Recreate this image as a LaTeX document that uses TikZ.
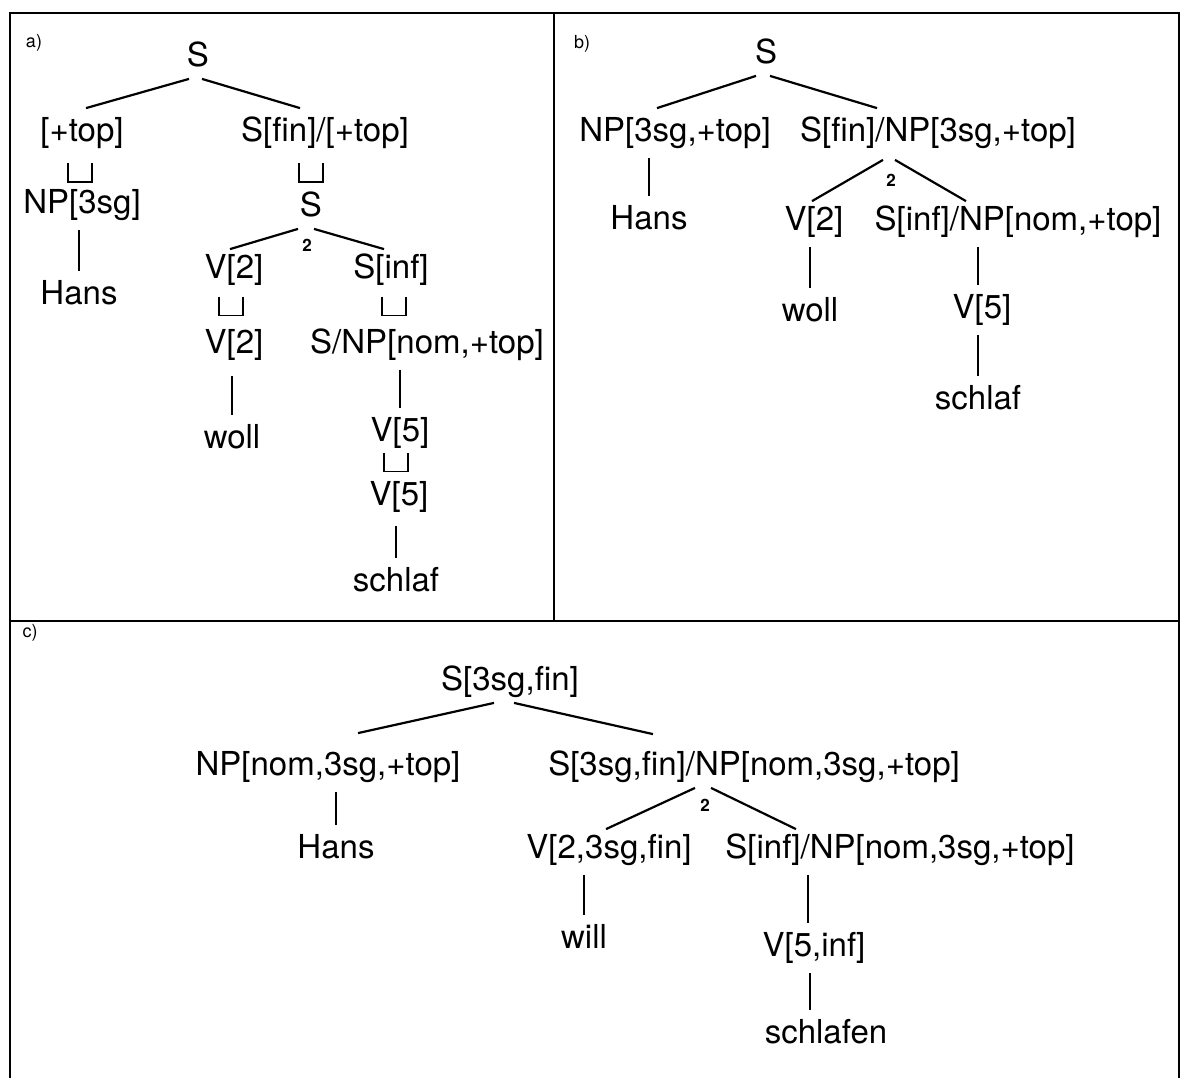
\documentclass[tikz,border=0pt]{standalone}
\usepackage{fontspec}
\setmainfont{TeX Gyre Heros}
\newcommand{\catsize}{\fontsize{16.5}{19}\selectfont}
\tikzset{
  cat/.style={inner xsep=0pt, inner ysep=2.5pt, text height=12pt, text depth=3.5pt, font=\catsize},
  branch/.style={line width=1.1pt},
  vline/.style={line width=0.9pt, shorten <=2pt, shorten >=2pt},
  panel/.style={font=\fontsize{9}{10}\selectfont},
  headno/.style={inner sep=0pt, font=\fontsize{8.5}{9}\selectfont\bfseries},
  frame/.style={line width=0.8pt},
  unify/.pic={\draw[line width=0.9pt] (-12,-9.5) -- (-12,9.5) -- (12,9.5) -- (12,-9.5);}
}

\begin{document}
\begin{tikzpicture}[x=0.5pt,y=-0.5pt]
\useasboundingbox (0,0) rectangle (1183,1078);
\draw[frame] (10,1078) -- (10,13) -- (1179,13) -- (1179,1078);
\draw[frame, line width=1.3pt] (10,13) -- (1179,13);
\draw[frame] (554,13) -- (554,621);
\draw[frame, line width=1.3pt] (10,621) -- (1179,621);

% a)
\node[panel] (la) at (34,43) {a)};
\node[cat] (aS) at (198,58) {S};
\node[cat] (atop) at (82,133) {[+top]};
\node[cat] (afin) at (325,133) {S[fin]/[+top]};
\node[cat] (anp) at (82,205) {NP[3sg]};
\node[cat] (aS2) at (311,208) {S};
\node[cat] (ahans) at (79,296) {Hans};
\node[cat] (av) at (234,270) {V[2]};
\node[cat] (ainf) at (391,270) {S[inf]};
\node[cat] (av2) at (234,345) {V[2]};
\node[cat] (aslash) at (427,345) {S/NP[nom,+top]};
\node[cat] (awoll) at (232,440) {woll};
\node[cat] (av5) at (400,433) {V[5]};
\node[cat] (av5b) at (399,497) {V[5]};
\node[cat] (aschlaf) at (396,583) {schlaf};
\node[headno] (a2) at (307,245) {2};
\draw[branch] ([xshift=-4.5pt]aS.south) -- ([xshift=2pt,yshift=2pt]atop.north);
\draw[branch] ([xshift=2pt]aS.south) -- ([xshift=-12.5pt,yshift=2pt]afin.north);
\draw[branch] ([xshift=-6.5pt]aS2.south) -- ([xshift=-2pt]av.north);
\draw[branch] ([xshift=1.5pt]aS2.south) -- ([xshift=-3.5pt]ainf.north);
\pic at (80,172.5) {unify};
\pic at (311,172.5) {unify};
\pic at (231,306) {unify};
\pic at (394,306) {unify};
\pic at (396,462) {unify};
\draw[vline] (ahans.north |- anp.south) -- (ahans.north);
\draw[vline, shorten <=5pt] (awoll.north |- av2.south) -- (awoll.north);
\draw[vline] (av5.north |- aslash.south) -- (av5.north);
\draw[vline, shorten <=4pt] (aschlaf.north |- av5b.south) -- (aschlaf.north);

% b)
\node[panel] (lb) at (582,44) {b)};
\node[cat] (bS) at (766,55) {S};
\node[cat] (bnp) at (675,133) {NP[3sg,+top]};
\node[cat] (bfin) at (938,133) {S[fin]/NP[3sg,+top]};
\node[cat] (bhans) at (649,221) {Hans};
\node[cat] (bv) at (814,222) {V[2]};
\node[cat] (binf) at (1018,222) {S[inf]/NP[nom,+top]};
\node[cat] (bwoll) at (810,313) {woll};
\node[cat] (bv5) at (982,310) {V[5]};
\node[cat] (bschlaf) at (978,401) {schlaf};
\node[headno] (b2) at (891,180) {2};
\draw[branch] ([xshift=-5pt]bS.south) -- ([xshift=-9pt,yshift=2pt]bnp.north);
\draw[branch] ([xshift=2pt]bS.south) -- ([xshift=-30.5pt,yshift=2pt]bfin.north);
\draw[branch] ([xshift=-27.5pt,yshift=-3pt]bfin.south) -- ([xshift=-1pt]bv.north);
\draw[branch] ([xshift=-21.5pt,yshift=-3pt]bfin.south) -- ([xshift=-26pt]binf.north);
\draw[vline] (bhans.north |- bnp.south) -- (bhans.north);
\draw[vline] (bwoll.north |- bv.south) -- (bwoll.north);
\draw[vline] ([xshift=-2pt]bv5.north |- binf.south) -- ([xshift=-2pt]bv5.north);
\draw[vline] (bschlaf.north |- bv5.south) -- (bschlaf.north);

% c)
\node[panel] (lc) at (30,633) {c)};
\node[cat] (cS) at (510,682) {S[3sg,fin]};
\node[cat] (cnp) at (328,767) {NP[nom,3sg,+top]};
\node[cat] (cfin) at (754,767) {S[3sg,fin]/NP[nom,3sg,+top]};
\node[cat] (chans) at (336,850) {Hans};
\node[cat] (cv) at (609,850) {V[2,3sg,fin]};
\node[cat] (cinf) at (900,850) {S[inf]/NP[nom,3sg,+top]};
\node[cat] (cwill) at (584,940) {will};
\node[cat] (cv5) at (814,948) {V[5,inf]};
\node[cat] (cschlaf) at (826,1035) {schlafen};
\node[headno] (c2) at (705,805) {2};
\draw[branch] ([xshift=-8pt]cS.south) -- ([xshift=15pt,yshift=6.5pt]cnp.north);
\draw[branch] ([xshift=2pt]cS.south) -- ([xshift=-50.5pt,yshift=6pt]cfin.north);
\draw[branch] ([xshift=-29.5pt]cfin.south) -- ([xshift=-1.5pt]cv.north);
\draw[branch] ([xshift=-21.5pt]cfin.south) -- ([xshift=-52pt]cinf.north);
\draw[vline] (chans.north |- cnp.south) -- (chans.north);
\draw[vline] (cwill.north |- cv.south) -- (cwill.north);
\draw[vline] ([xshift=-3pt]cv5.north |- cinf.south) -- ([xshift=-3pt]cv5.north);
\draw[vline] ([xshift=-2pt]cv5.south) -- ([xshift=-2pt]cv5.south |- cschlaf.north);
\end{tikzpicture}
\end{document}
